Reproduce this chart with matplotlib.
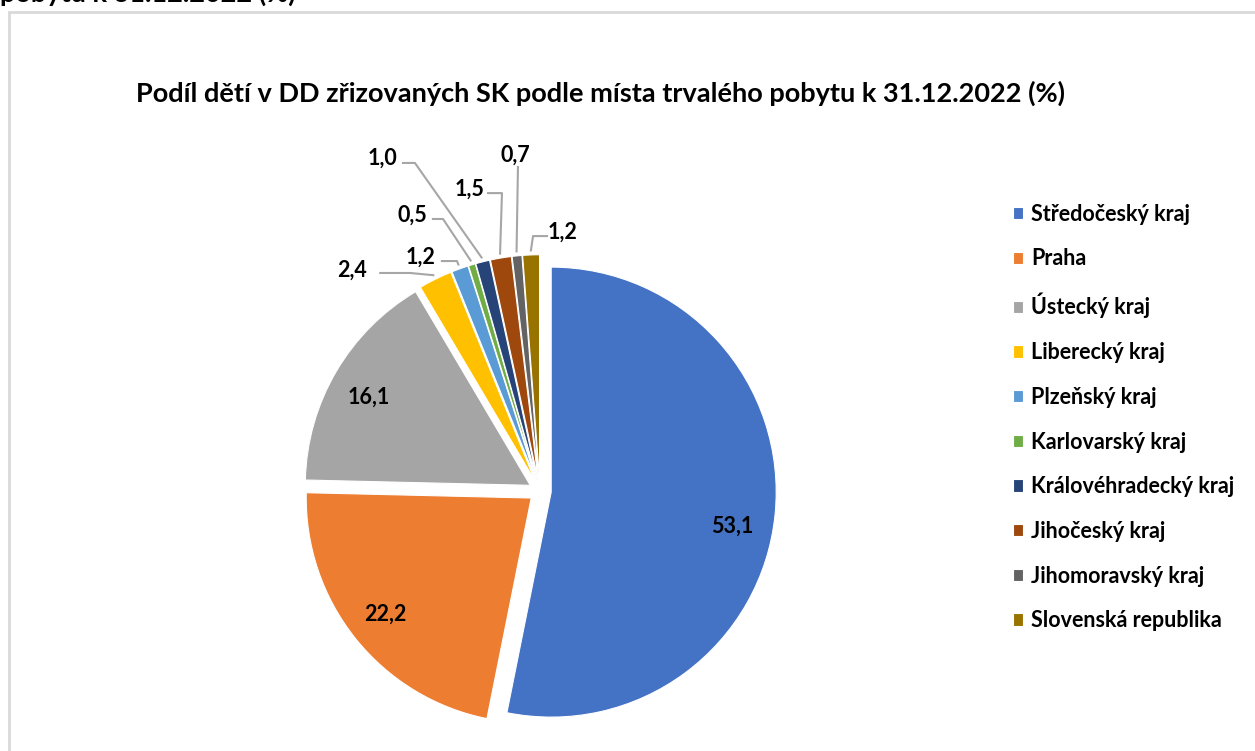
import matplotlib.pyplot as plt
import numpy as np
from matplotlib.patches import Rectangle

plt.rcParams['font.family'] = ['Lato', 'DejaVu Sans']

regions = ['Středočeský kraj', 'Praha', 'Ústecký kraj', 'Liberecký kraj', 'Plzeňský kraj',
           'Karlovarský kraj', 'Královéhradecký kraj', 'Jihočeský kraj', 'Jihomoravský kraj',
           'Slovenská republika']
shares = [53.1, 22.2, 16.1, 2.4, 1.2, 0.5, 1.0, 1.5, 0.7, 1.2]
colors = ['#4472C4', '#ED7D31', '#A5A5A5', '#FFC000', '#5B9BD5',
          '#70AD47', '#264478', '#9E480E', '#636363', '#997300']

title = 'Podíl dětí v DD zřizovaných SK podle místa trvalého pobytu k 31.12.2022 (%)'
cut_heading = 'pobytu k 31.12.2022 (%)'

W, H = 1255, 751
fig = plt.figure(figsize=(W / 100, H / 100), dpi=100)

# chart frame (excel chart area border, cut by the screenshot)
fig.add_artist(Rectangle((9 / W, -0.2), 1.5, 1.2 - 12 / H, transform=fig.transFigure,
                         fill=False, edgecolor='#d9d9d9', lw=2))
fig.text(0.0, 1 - 2 / H, cut_heading, fontsize=19.5, weight='bold', va='baseline', ha='left')

fig.text(601 / W, 1 - 93 / H, title, fontsize=19.5, weight='bold', ha='center', va='center')

# pie: centre at (540, 491) px, radius 225 px
cx, cy, r = 540, 491, 225
ax = fig.add_axes([(cx - r) / W, (H - cy - r) / H, 2 * r / W, 2 * r / H])
expl = 0.05
wedges, _ = ax.pie(shares, colors=colors, startangle=90, counterclock=False,
                   explode=[expl] * len(shares), radius=1,
                   wedgeprops=dict(edgecolor='white', linewidth=0.8))
ax.set_xlim(-1, 1)
ax.set_ylim(-1, 1)
ax.axis('off')

def lbl(v):
    return f'{v:.1f}'.replace('.', ',')

# label layout (data units of the pie axes): text pos, elbow of leader
outside = {
    3: ((-0.836, 0.982), [(-0.71, 0.969), (-0.578, 0.969)]),
    4: ((-0.533, 1.040), [(-0.436, 1.022), (-0.369, 1.022)]),
    5: ((-0.569, 1.227), [(-0.476, 1.209), (-0.431, 1.209)]),
    6: ((-0.702, 1.480), [(-0.609, 1.458), (-0.556, 1.458)]),
    7: ((-0.311, 1.342), [(-0.231, 1.324), (-0.169, 1.324)]),
    8: ((-0.111, 1.493), [(-0.098, 1.440)]),
    9: ((0.102, 1.151), [(0.031, 1.133), (-0.031, 1.133)]),
}
# best-fit nudge of inside labels (Excel places them a bit off the bisector)
inside_nudge = {0: (-0.02, -0.07), 2: (0.0, -0.03)}

for i, w in enumerate(wedges):
    mid = np.deg2rad((w.theta1 + w.theta2) / 2)
    d = np.array([np.cos(mid), np.sin(mid)])
    if i in outside:
        (tx, ty), pts = outside[i]
        ax.text(tx, ty, lbl(shares[i]), ha='center', va='center', fontsize=15.5,
                weight='bold', clip_on=False)
        end = (1 + expl + 0.02) * d
        xs = [p[0] for p in pts] + [end[0]]
        ys = [p[1] for p in pts] + [end[1]]
        ax.plot(xs, ys, color='#a6a6a6', lw=1.5, clip_on=False)
    else:
        p = (0.83 + expl) * d + np.array(inside_nudge.get(i, (0, 0)))
        ax.text(p[0], p[1], lbl(shares[i]), ha='center', va='center', fontsize=15.5,
                weight='bold')

leg = fig.legend(wedges, regions, loc='upper left', bbox_to_anchor=(1004 / W, 1 - 195 / H),
                 frameon=False, fontsize=15.5, handlelength=0.5, handleheight=0.5,
                 handletextpad=0.35, labelspacing=1.1, borderaxespad=0)
for t in leg.get_texts():
    t.set_fontweight('bold')

plt.savefig('out.png', dpi=100)
